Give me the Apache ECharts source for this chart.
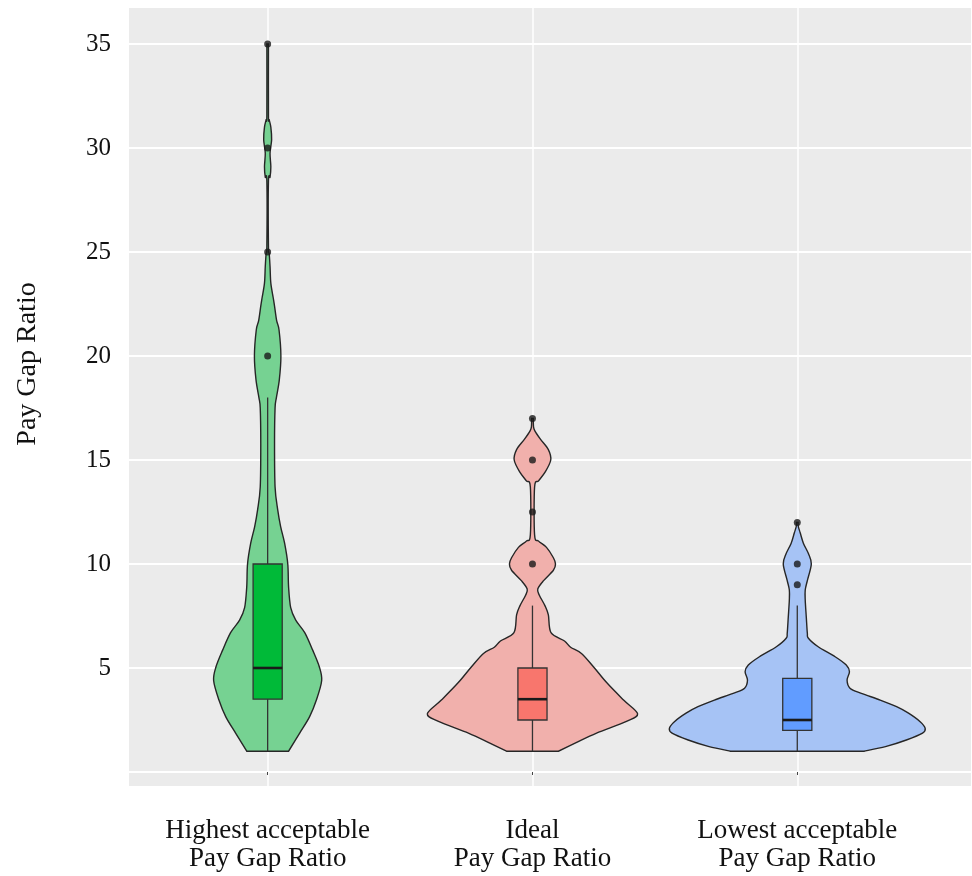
<!DOCTYPE html>
<html><head><meta charset="utf-8">
<script src="https://cdn.jsdelivr.net/npm/echarts@6/dist/echarts.min.js"></script>
<style>html,body{margin:0;padding:0;background:#fff}#c{width:972px;height:876px}</style>
</head><body><div id="c"></div>
<script>
// ---- data ----
const categories = ['Highest acceptable\nPay Gap Ratio', 'Ideal\nPay Gap Ratio', 'Lowest acceptable\nPay Gap Ratio'];
const yTicks = [0, 5, 10, 15, 20, 25, 30, 35];
const yLabels = [5, 10, 15, 20, 25, 30, 35];

// violin density profiles: value and half-width (in category units)
const highestY = [1.0, 1.87, 2.65, 3.46, 4.4, 5.06, 5.86, 6.7, 7.3, 7.9, 8.9, 10, 11, 11.8, 12.6, 13.7, 15.8, 17.5, 18.0, 18.85, 20, 21.25, 21.7, 22.4, 22.8, 23.5, 24.3, 24.9, 25.3, 28.4, 28.6, 29.1, 29.75, 30.4, 31.0, 31.35, 31.6, 35];
const highestW = [0.079, 0.121, 0.158, 0.184, 0.204, 0.195, 0.170, 0.140, 0.106, 0.087, 0.079, 0.076, 0.064, 0.049, 0.038, 0.028, 0.026, 0.028, 0.033, 0.044, 0.050, 0.043, 0.034, 0.026, 0.021, 0.012, 0.009, 0.006, 0.003, 0.003, 0.009, 0.012, 0.009, 0.015, 0.012, 0.006, 0.003, 0.003];

const idealY = [1.0, 1.4, 1.87, 2.43, 2.8, 3.46, 4.3, 5.05, 5.7, 6.0, 6.3, 6.7, 7.55, 8.0, 8.5, 8.8, 9.2, 9.7, 10, 10.3, 10.8, 11.1, 11.4, 13.7, 14.0, 14.4, 15, 15.5, 16.0, 16.4, 16.6, 17];
const idealW = [0.098, 0.163, 0.242, 0.355, 0.397, 0.344, 0.280, 0.231, 0.185, 0.144, 0.121, 0.070, 0.060, 0.047, 0.026, 0.020, 0.042, 0.079, 0.087, 0.079, 0.053, 0.023, 0.008, 0.008, 0.023, 0.047, 0.069, 0.060, 0.030, 0.009, 0.004, 0.003];

const lowestY = [1.0, 1.22, 1.54, 1.87, 2.1, 2.42, 2.83, 3.14, 3.46, 3.78, 4.03, 4.42, 4.82, 5.14, 5.54, 6.02, 6.43, 6.67, 7.45, 8.27, 8.75, 9.2, 10, 10.5, 11.0, 11.5, 11.8, 12];
const lowestW = [0.252, 0.333, 0.412, 0.473, 0.483, 0.464, 0.420, 0.375, 0.313, 0.242, 0.199, 0.188, 0.197, 0.185, 0.143, 0.079, 0.042, 0.038, 0.034, 0.030, 0.030, 0.038, 0.053, 0.042, 0.023, 0.011, 0.004, 0.003];

// box plot statistics
const boxMin = [1, 1, 1];
const boxQ1 = [3.5, 2.5, 2.0];
const boxMed = [5, 3.5, 2.5];
const boxQ3 = [10, 5, 4.5];
const boxMax = [18, 8, 8];

// outliers
const outlierCat = [0, 0, 0, 0, 1, 1, 1, 1, 2, 2, 2];
const outlierVal = [20, 25, 30, 35, 10, 12.5, 15, 17, 9, 10, 12];

// ---- styles ----
const violinYs = [highestY, idealY, lowestY];
const violinWs = [highestW, idealW, lowestW];
const violinFill = ['#76D292', '#F1B0AC', '#A6C3F5'];
const boxFill = ['#00BA38', '#F8766D', '#619CFF'];
const BOX_HALF = 0.055;
const FONT = '"Liberation Serif", "Times New Roman", serif';

function sidePath(pts, first) {
  // Catmull-Rom -> cubic bezier through pts
  let d = first ? ('M' + pts[0][0] + ',' + pts[0][1]) : ('L' + pts[0][0] + ',' + pts[0][1]);
  const n = pts.length;
  const k = 0.16;
  for (let i = 0; i < n - 1; i++) {
    const p0 = pts[Math.max(0, i - 1)], p1 = pts[i], p2 = pts[i + 1], p3 = pts[Math.min(n - 1, i + 2)];
    const c1x = p1[0] + (p2[0] - p0[0]) * k, c1y = p1[1] + (p2[1] - p0[1]) * k;
    const c2x = p2[0] - (p3[0] - p1[0]) * k, c2y = p2[1] - (p3[1] - p1[1]) * k;
    d += 'C' + c1x + ',' + c1y + ',' + c2x + ',' + c2y + ',' + p2[0] + ',' + p2[1];
  }
  return d;
}

const chart = echarts.init(document.getElementById('c'), null, {renderer: 'canvas'});
chart.setOption({
  animation: false,
  backgroundColor: '#ffffff',
  grid: {left: 129, right: 1, top: 8, bottom: 90, show: true, backgroundColor: '#EBEBEB', borderWidth: 0},
  xAxis: {
    type: 'value', min: -0.5236, max: 2.656,
    axisLine: {show: false},
    axisTick: {show: true, customValues: [0, 1, 2], length: 3, lineStyle: {color: '#444', width: 1}},
    axisLabel: {customValues: [0, 1, 2], formatter: v => categories[Math.round(v)], fontFamily: FONT, fontSize: 27, lineHeight: 28, color: '#111', margin: 31},
    splitLine: {show: true, lineStyle: {color: '#ffffff', width: 1.5}}
  },
  yAxis: {
    type: 'value', min: -0.673, max: 36.73,
    axisLine: {show: false},
    axisTick: {show: false, customValues: yTicks},
    axisLabel: {customValues: yLabels, fontFamily: FONT, fontSize: 25, color: '#111', margin: 18},
    splitLine: {show: true, lineStyle: {color: '#ffffff', width: 2}}
  },
  graphic: [{
    type: 'text', x: 28, y: 364, rotation: Math.PI / 2,
    style: {text: 'Pay Gap Ratio', font: '28px ' + FONT, fill: '#111', align: 'center', verticalAlign: 'middle', textAlign: 'center', textVerticalAlign: 'middle'}
  }],
  series: [
    {
      type: 'custom',
      data: categories.map((c, i) => [i, 1]),
      encode: {x: 0, y: 1},
      silent: true,
      renderItem: function (params, api) {
        const i = params.dataIndex;
        const ys = violinYs[i], ws = violinWs[i];
        const left = [], right = [];
        for (let k = 0; k < ys.length; k++) {
          left.push(api.coord([i - ws[k], ys[k]]));
        }
        for (let k = ys.length - 1; k >= 0; k--) {
          right.push(api.coord([i + ws[k], ys[k]]));
        }
        const d = sidePath(left, true) + sidePath(right, false) + 'Z';
        return {
          type: 'path',
          shape: {pathData: d},
          style: {fill: violinFill[i], stroke: '#262626', lineWidth: 1.4}
        };
      },
      z: 2
    },
    {
      type: 'custom',
      data: categories.map((c, i) => [i, boxMed[i]]),
      encode: {x: 0, y: 1},
      silent: true,
      renderItem: function (params, api) {
        const i = params.dataIndex;
        const lo = api.coord([i, boxMin[i]]), hi = api.coord([i, boxMax[i]]);
        const a = api.coord([i - BOX_HALF, boxQ1[i]]), b = api.coord([i + BOX_HALF, boxQ3[i]]);
        const ml = api.coord([i - BOX_HALF, boxMed[i]]), mr = api.coord([i + BOX_HALF, boxMed[i]]);
        return {
          type: 'group',
          children: [
            {type: 'line', shape: {x1: lo[0], y1: lo[1], x2: hi[0], y2: hi[1]}, style: {stroke: '#333', lineWidth: 1.3}},
            {type: 'rect', shape: {x: a[0], y: b[1], width: b[0] - a[0], height: a[1] - b[1]}, style: {fill: boxFill[i], stroke: '#333', lineWidth: 1.3}},
            {type: 'line', shape: {x1: ml[0], y1: ml[1], x2: mr[0], y2: mr[1]}, style: {stroke: '#1a1a1a', lineWidth: 2.6}}
          ]
        };
      },
      z: 3
    },
    {
      type: 'scatter',
      data: outlierCat.map((c, k) => [c, outlierVal[k]]),
      symbolSize: 7,
      itemStyle: {color: '#1a1a1a'},
      silent: true,
      z: 4
    }
  ]
});
</script>
</body></html>
